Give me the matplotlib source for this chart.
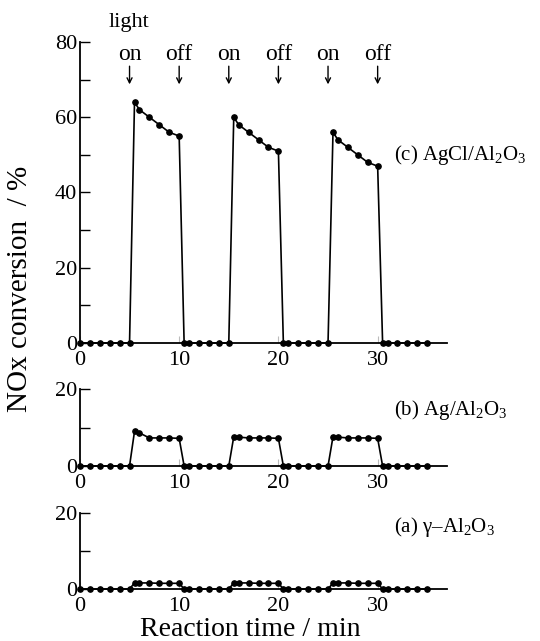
"""
NOx conversion under light on/off cycles for three catalysts.
"""
import matplotlib
matplotlib.use('Agg')
import matplotlib.pyplot as plt
from matplotlib.ticker import MultipleLocator

plt.rcParams['font.family'] = ['Liberation Serif', 'DejaVu Serif']
plt.rcParams['mathtext.fontset'] = 'custom'
plt.rcParams['mathtext.rm'] = 'Liberation Serif'
plt.rcParams['mathtext.it'] = 'Liberation Serif:italic'

# reaction time / min (same sampling for all three catalysts)
time_min = [0, 1, 2, 3, 4, 5,
            5.5, 6, 7, 8, 9, 10,
            10.5, 11, 12, 13, 14, 15,
            15.5, 16, 17, 18, 19, 20,
            20.5, 21, 22, 23, 24, 25,
            25.5, 26, 27, 28, 29, 30,
            30.5, 31, 32, 33, 34, 35]

# NOx conversion / %
agcl_al2o3 = [0, 0, 0, 0, 0, 0,
              64, 62, 60, 58, 56, 55,
              0, 0, 0, 0, 0, 0,
              60, 58, 56, 54, 52, 51,
              0, 0, 0, 0, 0, 0,
              56, 54, 52, 50, 48, 47,
              0, 0, 0, 0, 0, 0]
ag_al2o3 = [0, 0, 0, 0, 0, 0,
            9.0, 8.6, 7.3, 7.3, 7.3, 7.2,
            0, 0, 0, 0, 0, 0,
            7.6, 7.5, 7.3, 7.3, 7.3, 7.2,
            0, 0, 0, 0, 0, 0,
            7.6, 7.5, 7.3, 7.3, 7.3, 7.2,
            0, 0, 0, 0, 0, 0]
gamma_al2o3 = [0, 0, 0, 0, 0, 0,
               1.6, 1.6, 1.6, 1.5, 1.5, 1.5,
               0, 0, 0, 0, 0, 0,
               1.6, 1.6, 1.6, 1.5, 1.5, 1.5,
               0, 0, 0, 0, 0, 0,
               1.6, 1.6, 1.6, 1.5, 1.5, 1.5,
               0, 0, 0, 0, 0, 0]

switch_times = [5, 10, 15, 20, 25, 30]
switch_labels = ['on', 'off', 'on', 'off', 'on', 'off']

panel_labels = [r'(c) AgCl/Al$_2$O$_3$', r'(b) Ag/Al$_2$O$_3$',
                r'(a) γ–Al$_2$O$_3$']


def _style_axes(ax, ymax, ymajor):
    ax.spines['top'].set_visible(False)
    ax.spines['right'].set_visible(False)
    for sp in ['left', 'bottom']:
        ax.spines[sp].set_linewidth(1.3)
    ax.set_xlim(0, 37)
    ax.set_ylim(0, ymax)
    ax.yaxis.set_major_locator(MultipleLocator(ymajor))
    ax.yaxis.set_minor_locator(MultipleLocator(ymajor / 2))
    ax.set_xticks([0, 10, 20, 30])
    ax.tick_params(axis='y', which='both', direction='in', length=7,
                   width=1.0, labelsize=16, pad=2)
    ax.tick_params(axis='x', direction='in', length=5, width=0.8,
                   color='#bbbbbb', labelsize=16, pad=6)
    for lbl in ax.get_xticklabels():
        lbl.set_color('black')


def _draw(ax, y):
    ax.plot(time_min, y, '-', color='black', lw=1.2,
            marker='o', ms=3.8, mfc='black', mec='black', clip_on=False,
            zorder=5)


fig = plt.figure(figsize=(5.4, 6.41), dpi=100)
left, width = 0.148, 0.680
ax_c = fig.add_axes([left, 0.4649, width, 0.4696])
ax_b = fig.add_axes([left, 0.2730, width, 0.1200])
ax_a = fig.add_axes([left, 0.0811, width, 0.1186])

_style_axes(ax_c, 80, 20)
_style_axes(ax_b, 20, 20)
_style_axes(ax_a, 20, 20)

_draw(ax_c, agcl_al2o3)
_draw(ax_b, ag_al2o3)
_draw(ax_a, gamma_al2o3)

ax_c.text(31.6, 50, panel_labels[0], fontsize=15, va='center', ha='left')
ax_b.text(31.6, 14.6, panel_labels[1], fontsize=15, va='center', ha='left')
ax_a.text(31.6, 16.3, panel_labels[2], fontsize=15, va='center', ha='left')

# light on/off markers
for t, s in zip(switch_times, switch_labels):
    ax_c.text(t, 76.8, s, fontsize=17, ha='center', va='center')
    ax_c.annotate('', xy=(t, 68.0), xytext=(t, 74.3),
                  arrowprops=dict(arrowstyle='->', color='black', lw=1.0,
                                  mutation_scale=9))
ax_c.text(4.9, 85.2, 'light', fontsize=16, ha='center', va='center',
          clip_on=False)

fig.text(0.037, 0.549, 'NOx conversion  / %', rotation=90, fontsize=21,
         ha='center', va='center')
fig.text(0.463, 0.008, 'Reaction time / min', fontsize=20,
         ha='center', va='baseline')

fig.savefig('out.png', dpi=100)
